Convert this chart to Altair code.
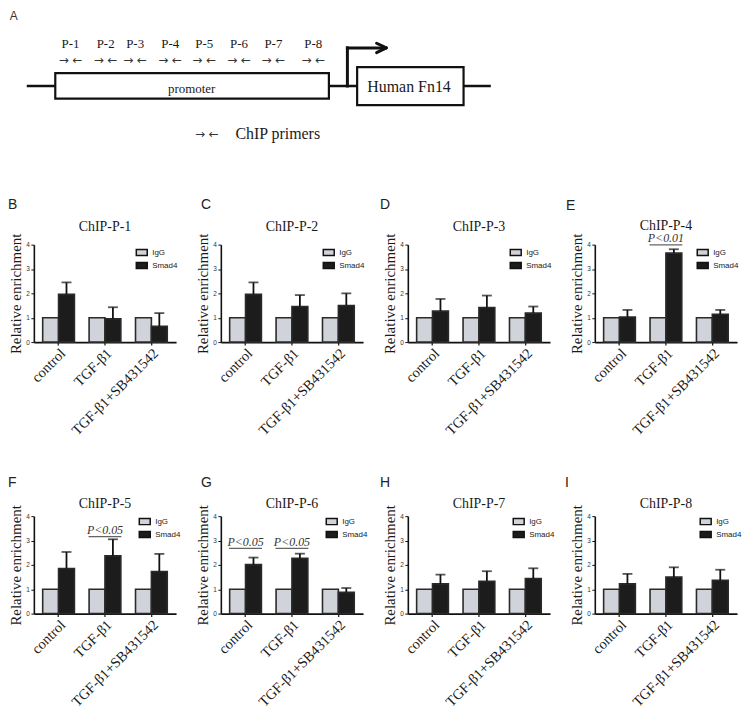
import altair as alt
import pandas as pd

# ---------------- data ----------------
conditions = ["control", "TGF-β1", "TGF-β1+SB431542"]
series_names = ["IgG", "Smad4"]
panel_titles = ["ChIP-P-1", "ChIP-P-2", "ChIP-P-3", "ChIP-P-4",
                "ChIP-P-5", "ChIP-P-6", "ChIP-P-7", "ChIP-P-8"]
panel_letters = ["B", "C", "D", "E", "F", "G", "H", "I"]
igg_values = [1.0, 1.0, 1.0]
smad4_values = [
    [1.96, 0.96, 0.65],
    [1.96, 1.46, 1.50],
    [1.27, 1.42, 1.19],
    [1.03, 3.65, 1.14],
    [1.85, 2.37, 1.73],
    [2.01, 2.27, 0.87],
    [1.22, 1.33, 1.44],
    [1.22, 1.50, 1.37],
]
smad4_upper = [
    [2.45, 1.43, 1.19],
    [2.45, 1.93, 2.00],
    [1.77, 1.91, 1.46],
    [1.32, 3.81, 1.32],
    [2.53, 3.05, 2.45],
    [2.30, 2.46, 1.05],
    [1.60, 1.74, 1.86],
    [1.63, 1.90, 1.80],
]
sig_panels = ["ChIP-P-4", "ChIP-P-5", "ChIP-P-6", "ChIP-P-6"]
sig_conditions = ["TGF-β1", "TGF-β1", "control", "TGF-β1"]
sig_levels = [3.99, 3.16, 2.68, 2.68]
sig_labels = ["P<0.01", "P<0.05", "P<0.05", "P<0.05"]
y_ticks = [0, 1, 2, 3, 4]

# schematic (diagram coordinates)
primer_labels = ["P-1", "P-2", "P-3", "P-4", "P-5", "P-6", "P-7", "P-8"]
primer_x = [65.7, 101.7, 132.0, 168.0, 203.0, 238.7, 274.0, 315.0]
primer_label_y = 36.7
primer_arrow_y = 53.3
backbone = {"x": [20.7], "x2": [497.3], "y": [79.0], "y2": [79.0]}
tss_lines = {"x": [350.0, 350.0], "x2": [350.0, 387.0], "y": [79.0, 40.7], "y2": [40.7, 40.7]}
tss_head = {"x": [380.0, 380.0], "x2": [390.0, 390.0], "y": [36.0, 45.5], "y2": [40.7, 40.7]}
boxes = {"x": [50.0, 360.0], "x2": [331.0, 469.3], "y": [66.0, 60.0], "y2": [91.7, 98.3]}
box_labels = {"t": ["promoter"], "x": [190.0], "y": [81.7]}
gene_label = {"t": ["Human Fn14"], "x": [413.3], "y": [80.0]}
key_arrow = {"t": ["→ ←"], "x": [205.7], "y": [127.7]}
key_label = {"t": ["ChIP primers"], "x": [235.0], "y": [127.7]}
fig_letter = {"t": ["A"], "x": [3.3], "y": [3.5]}

# ---------------- styling ----------------
SERIF = "Liberation Serif"
SANS = "Liberation Sans"
IGG_FILL = "#d0d3d9"
SMAD_FILL = "#1c1c1c"
INK = "#1a1a1a"

PANEL_W = 143
PANEL_H = 98
H_SPACING = 45
ROW_SPACING = 175
TOP_SPACING = 175

letter_dx = [-26, -20, -28, -29, -26, -20, -28, -30]
letter_dy = [-47, -47, -47, -46, -40, -40, -40, -40]
title_dy = [-14, -14, -14, -15, -8.5, -8.5, -8.5, -8.5]
legend_x = [102, 102, 102, 102, 105, 105, 105, 105]
legend_y = [1.5, 1.5, 1.5, 1.5, -1.0, -1.0, -1.0, -1.0]


def make_panel(p):
    rows = []
    for ci, cond in enumerate(conditions):
        rows.append({"cond": cond, "series": "IgG", "value": igg_values[ci], "upper": igg_values[ci]})
        rows.append({"cond": cond, "series": "Smad4", "value": smad4_values[p][ci],
                     "upper": smad4_upper[p][ci]})
    df = pd.DataFrame(rows)

    x_scale = alt.Scale(domain=conditions, paddingInner=0.316, paddingOuter=0.19)
    xo_scale = alt.Scale(domain=series_names, paddingInner=0, paddingOuter=0)
    y_scale = alt.Scale(domain=[0, 4], nice=False, zero=True)
    x_axis = alt.Axis(title=None, labelAngle=315, labelFont=SERIF, labelFontSize=14.5,
                      labelColor=INK, labelPadding=1, labelOverlap=False,
                      domainColor="#111", domainWidth=1.6, tickColor="#111",
                      tickWidth=1.2, tickSize=3)
    y_axis = alt.Axis(values=y_ticks, format="d", grid=False, title="Relative enrichment",
                      titleFont=SERIF, titleFontSize=15, titleFontWeight="normal",
                      titleColor=INK, titleAngle=270, titleX=-18, titleY=PANEL_H / 2,
                      titleAlign="center", titleBaseline="middle",
                      labelFont=SANS, labelFontSize=6.5, labelColor="#333",
                      labelPadding=1.5, tickSize=3, tickColor="#111", tickWidth=1,
                      domainColor="#111", domainWidth=1.6)
    X = alt.X("cond:N", scale=x_scale, axis=x_axis)
    XO = alt.XOffset("series:N", scale=xo_scale)

    bars = alt.Chart(df).mark_bar(stroke="#2a2a2a", strokeWidth=1.6).encode(
        x=X, xOffset=XO,
        y=alt.Y("value:Q", scale=y_scale, axis=y_axis),
        fill=alt.Fill("series:N", scale=alt.Scale(domain=series_names, range=[IGG_FILL, SMAD_FILL]),
                      legend=alt.Legend(orient="none", legendX=legend_x[p], legendY=legend_y[p],
                                        title=None, symbolType="M-1,-0.55H1V0.55H-1Z",
                                        symbolSize=121, symbolStrokeColor="#111",
                                        symbolStrokeWidth=1.5, labelFont=SANS, labelFontSize=8,
                                        labelColor=INK, labelOffset=4, rowPadding=0, padding=0)),
    )
    smad = alt.Chart(df).transform_filter(alt.datum.series == "Smad4")
    err = smad.mark_rule(color="#111", strokeWidth=1.8).encode(
        x=X, xOffset=XO, y=alt.Y("value:Q", scale=y_scale, axis=y_axis), y2="upper:Q")
    cap = smad.mark_tick(color="#111", thickness=1.8, size=10).encode(
        x=X, xOffset=XO, y=alt.Y("upper:Q", scale=y_scale, axis=y_axis))

    layers = [bars, err, cap]

    sig_rows = [
        {"cond": c, "level": l, "label": t}
        for pn, c, l, t in zip(sig_panels, sig_conditions, sig_levels, sig_labels)
        if pn == panel_titles[p]
    ]
    if sig_rows:
        sdf = pd.DataFrame(sig_rows)
        line = alt.Chart(sdf).mark_tick(color="#222", thickness=1.2, size=33).encode(
            x=X, y=alt.Y("level:Q", scale=y_scale, axis=y_axis))
        txt = alt.Chart(sdf).mark_text(font=SERIF, fontStyle="italic", fontSize=12,
                                       color="#333", baseline="alphabetic", dy=-2.5).encode(
            x=X, y=alt.Y("level:Q", scale=y_scale, axis=y_axis), text="label:N")
        layers += [line, txt]

    title = alt.Chart(pd.DataFrame({"t": [panel_titles[p]]})).mark_text(
        font=SERIF, fontSize=14, color=INK, align="center", baseline="alphabetic").encode(
        text="t:N", x=alt.value(PANEL_W / 2), y=alt.value(title_dy[p]))
    letter = alt.Chart(pd.DataFrame({"t": [panel_letters[p]]})).mark_text(
        font=SANS, fontSize=14, color="#222", align="left", baseline="top").encode(
        text="t:N", x=alt.value(letter_dx[p]), y=alt.value(letter_dy[p]))
    layers += [title, letter]

    return alt.layer(*layers).properties(width=PANEL_W, height=PANEL_H)


# ---------------- schematic ----------------
sx = alt.Scale(domain=[28, 743], nice=False, zero=False)
sy = alt.Scale(domain=[3.5, 63.5], nice=False, zero=False, reverse=True)


def sX(field="x"):
    return alt.X(f"{field}:Q", scale=sx, axis=None)


def sY(field="y"):
    return alt.Y(f"{field}:Q", scale=sy, axis=None)


bb = alt.Chart(pd.DataFrame(backbone)).mark_rule(color="#111", strokeWidth=2.7).encode(
    x=sX(), x2="x2:Q", y=sY(), y2="y2:Q")
bx = alt.Chart(pd.DataFrame(boxes)).mark_rect(fill="white", stroke="#111", strokeWidth=2.2).encode(
    x=sX(), x2="x2:Q", y=sY(), y2="y2:Q")
tss = alt.Chart(pd.DataFrame(tss_lines)).mark_rule(color="#111", strokeWidth=3, strokeCap="square").encode(
    x=sX(), x2="x2:Q", y=sY(), y2="y2:Q")
head = alt.Chart(pd.DataFrame(tss_head)).mark_rule(color="#111", strokeWidth=3, strokeCap="round").encode(
    x=sX(), x2="x2:Q", y=sY(), y2="y2:Q")
plab = alt.Chart(pd.DataFrame({"t": primer_labels, "x": primer_x,
                               "y": [primer_label_y] * len(primer_x)})).mark_text(
    font=SERIF, fontSize=13, color=INK, baseline="middle").encode(x=sX(), y=sY(), text="t:N")
parr = alt.Chart(pd.DataFrame({"t": ["→ ←"] * len(primer_x), "x": primer_x,
                               "y": [primer_arrow_y] * len(primer_x)})).mark_text(
    font="DejaVu Sans", fontSize=12, color="#333", baseline="middle").encode(x=sX(), y=sY(), text="t:N")
prom = alt.Chart(pd.DataFrame(box_labels)).mark_text(
    font=SERIF, fontSize=13, color=INK, baseline="middle").encode(x=sX(), y=sY(), text="t:N")
gene = alt.Chart(pd.DataFrame(gene_label)).mark_text(
    font=SERIF, fontSize=16, color=INK, baseline="middle").encode(x=sX(), y=sY(), text="t:N")
karr = alt.Chart(pd.DataFrame(key_arrow)).mark_text(
    font="DejaVu Sans", fontSize=12, color="#333", baseline="middle").encode(x=sX(), y=sY(), text="t:N")
klab = alt.Chart(pd.DataFrame(key_label)).mark_text(
    font=SERIF, fontSize=16, color=INK, baseline="middle", align="left").encode(x=sX(), y=sY(), text="t:N")
alab = alt.Chart(pd.DataFrame(fig_letter)).mark_text(
    font=SANS, fontSize=12, color="#333", baseline="top", align="left").encode(x=sX(), y=sY(), text="t:N")

schematic = alt.layer(bb, bx, tss, head, plab, parr, prom, gene, karr, klab, alab).properties(
    width=700, height=60)

# ---------------- assemble ----------------
panels = [make_panel(p) for p in range(8)]
grid = alt.concat(*panels, columns=4, spacing={"row": ROW_SPACING, "column": H_SPACING},
                  bounds="flush").resolve_scale(fill="independent").resolve_legend(fill="independent")

chart = alt.vconcat(schematic, grid, spacing=TOP_SPACING, bounds="flush").resolve_scale(
    fill="independent").resolve_legend(fill="independent").properties(
    padding=0, background="white").configure_view(strokeWidth=0)

chart.save("out.html", embed_options={"renderer": "svg", "actions": False})
